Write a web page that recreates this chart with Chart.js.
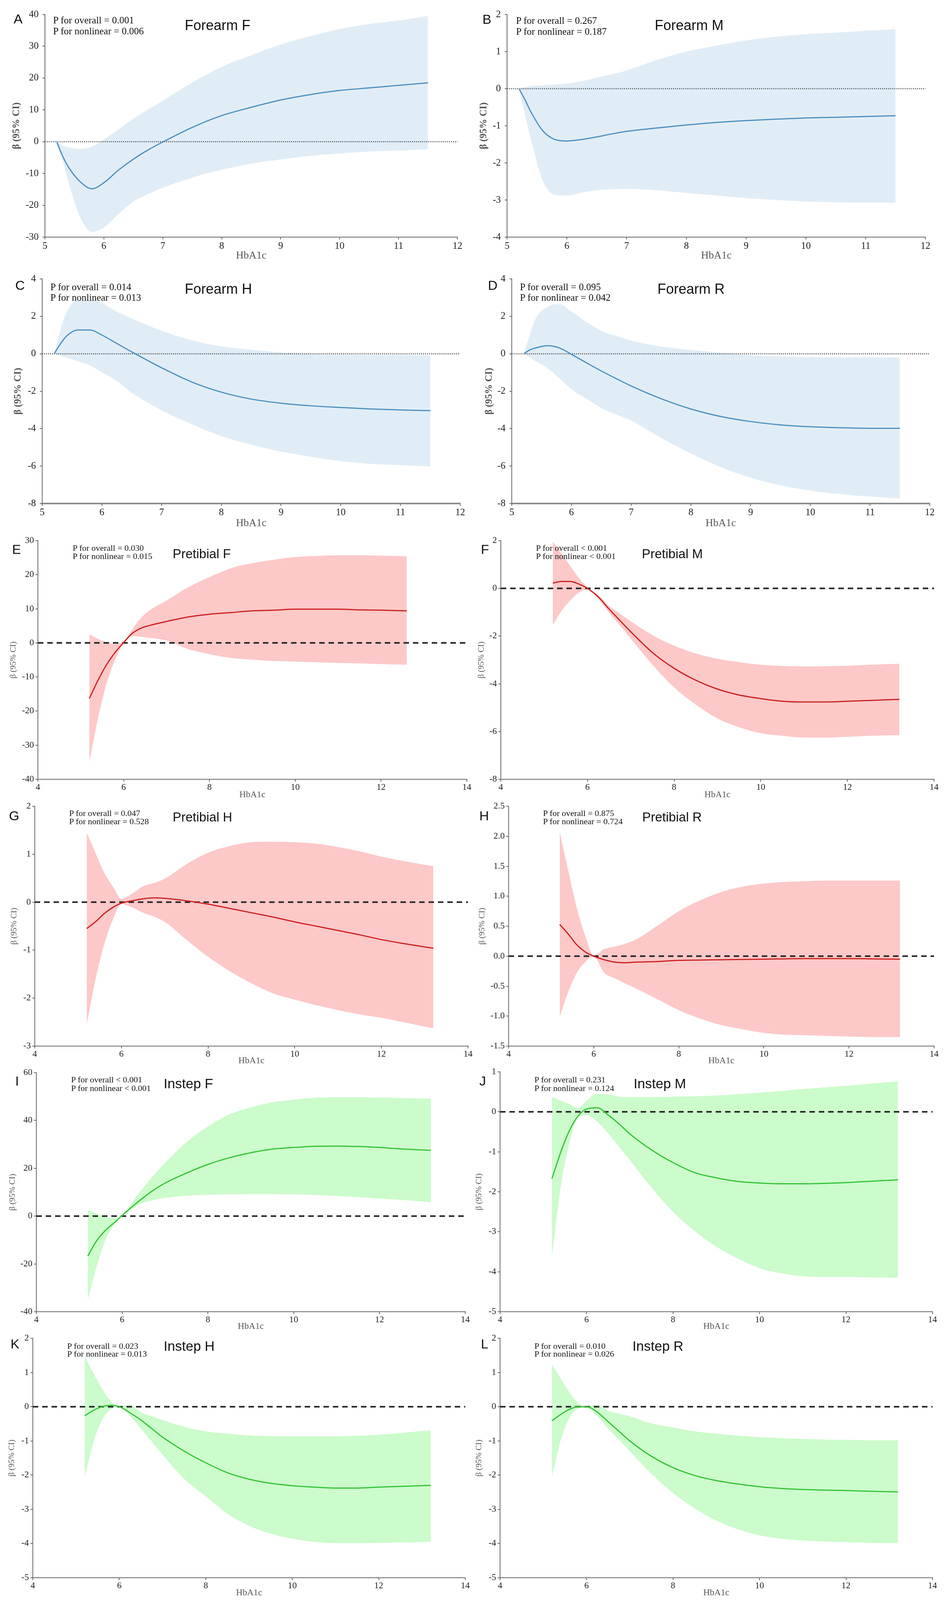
<!DOCTYPE html>
<html><head><meta charset="utf-8">
<script src="https://cdn.jsdelivr.net/npm/chart.js@4.4.0/dist/chart.umd.min.js"></script>
<style>
html,body{margin:0;padding:0;background:#fff;}
#page{position:relative;width:2419px;height:4488px;overflow:hidden;background:#fff;}
canvas{position:absolute;}
.lbl{position:absolute;white-space:nowrap;color:#111;}
.letter,.ttl{font-family:"Liberation Sans",Arial,sans-serif;}
.ptxt{font-family:"Liberation Serif","Times New Roman",serif;}
</style></head><body><div id="page"></div>
<script>
// ---------- DATA ----------
const hbaForearm    = [5.2,5.3,5.4,5.6,5.8,6.0,6.25,6.5,6.75,7,7.5,8,8.5,9,9.5,10,10.5,11,11.5];
const hbaPretibialF = [5.2,5.4,5.6,5.8,6.0,6.2,6.4,6.6,7,7.5,8,8.5,9,9.5,10,10.5,11,11.5,12,12.6];
const hbaLeg        = [5.2,5.4,5.6,5.8,6.0,6.25,6.5,6.75,7,7.5,8,8.5,9,9.5,10,10.5,11,11.5,12,12.5,13.2];

// A Forearm F
const betaA  = [0,-4.5,-8,-12.6,-14.8,-12.9,-8.9,-5.5,-2.6,-0.1,4.5,8.2,10.8,13.1,14.8,16.1,16.9,17.7,18.5];
const upperA = [0,-1.2,-1.8,-2.3,-1.5,0.7,3.9,7.2,10.1,12.9,18.6,23.5,27.2,30.5,33.2,35.4,37.0,38.1,39.5];
const lowerA = [-0.8,-6,-12.9,-23.8,-28.4,-27,-22.7,-18.9,-16.5,-14.5,-11.3,-8.8,-6.9,-5.6,-4.5,-3.7,-3.1,-2.8,-2.4];
// B Forearm M
const betaB  = [0,-0.3,-0.63,-1.14,-1.37,-1.41,-1.37,-1.30,-1.22,-1.15,-1.06,-0.98,-0.91,-0.86,-0.82,-0.79,-0.77,-0.75,-0.73];
const upperB = [0,0.04,0.07,0.09,0.11,0.14,0.2,0.3,0.39,0.49,0.77,1.0,1.16,1.3,1.4,1.47,1.51,1.56,1.6];
const lowerB = [0,-0.7,-1.37,-2.49,-2.86,-2.88,-2.8,-2.74,-2.71,-2.7,-2.74,-2.81,-2.88,-2.95,-3.0,-3.04,-3.06,-3.07,-3.07];
// C Forearm H
const betaC  = [0,0.5,0.92,1.27,1.27,1.0,0.55,0.1,-0.33,-0.75,-1.5,-2.05,-2.42,-2.64,-2.78,-2.87,-2.95,-3.0,-3.04];
const upperC = [0,1.2,2.15,2.85,2.85,2.7,2.25,1.88,1.55,1.23,0.72,0.4,0.21,0.07,-0.02,-0.04,-0.05,-0.06,-0.07];
const lowerC = [0,-0.1,-0.2,-0.4,-0.62,-0.99,-1.45,-2.09,-2.58,-3.02,-3.76,-4.4,-4.86,-5.23,-5.5,-5.74,-5.88,-5.95,-6.02];
// D Forearm R
const betaD  = [0,0.2,0.31,0.43,0.31,-0.03,-0.48,-0.92,-1.33,-1.72,-2.4,-2.95,-3.35,-3.62,-3.8,-3.9,-3.95,-3.98,-3.98];
const upperD = [0,1.0,1.88,2.52,2.65,2.25,1.7,1.23,0.95,0.71,0.39,0.2,0.06,-0.07,-0.15,-0.18,-0.19,-0.19,-0.19];
const lowerD = [0,-0.2,-0.4,-0.77,-1.32,-1.9,-2.4,-2.9,-3.25,-3.57,-4.5,-5.33,-6.06,-6.62,-7.03,-7.31,-7.5,-7.63,-7.73];
// E Pretibial F
const betaE  = [-16.3,-11.0,-6.4,-2.8,0.1,2.8,4.3,5.1,6.3,7.6,8.4,8.9,9.4,9.6,9.9,9.9,9.9,9.7,9.6,9.4];
const upperE = [2.5,1.2,0.2,-0.3,0.5,4,7.3,9.5,12.4,16.3,19.3,21.9,23.4,24.4,25.2,25.5,25.7,25.7,25.6,25.4];
const lowerE = [-34.9,-22.2,-12,-4.9,-0.2,2.0,1.8,1.5,0.7,-1.8,-3.3,-4.4,-4.9,-5.3,-5.5,-5.7,-5.9,-6.0,-6.2,-6.4];
// F Pretibial M
const betaF  = [0.22,0.29,0.29,0.18,0.0,-0.36,-0.87,-1.35,-1.82,-2.69,-3.35,-3.85,-4.22,-4.47,-4.62,-4.73,-4.76,-4.76,-4.73,-4.7,-4.65];
const upperF = [1.96,1.45,0.95,0.44,0.04,-0.28,-0.74,-1.06,-1.38,-1.96,-2.4,-2.73,-2.95,-3.09,-3.2,-3.25,-3.27,-3.26,-3.24,-3.2,-3.16];
const lowerF = [-1.53,-0.95,-0.51,-0.18,-0.04,-0.44,-1.02,-1.55,-2.11,-3.2,-4.15,-4.87,-5.45,-5.82,-6.07,-6.18,-6.25,-6.25,-6.22,-6.18,-6.15];
// G Pretibial H
const betaG  = [-0.55,-0.41,-0.24,-0.11,-0.02,0.03,0.07,0.09,0.08,0.03,-0.04,-0.13,-0.22,-0.31,-0.41,-0.5,-0.59,-0.68,-0.78,-0.86,-0.96];
const upperG = [1.45,1.03,0.62,0.33,0.07,0.18,0.33,0.4,0.49,0.79,1.03,1.17,1.25,1.26,1.25,1.22,1.15,1.06,0.95,0.86,0.75];
const lowerG = [-2.54,-1.62,-0.89,-0.37,-0.04,-0.11,-0.22,-0.3,-0.41,-0.78,-1.14,-1.44,-1.69,-1.9,-2.03,-2.15,-2.25,-2.34,-2.41,-2.5,-2.63];
// H Pretibial R
const betaH  = [0.53,0.37,0.19,0.07,0.0,-0.06,-0.1,-0.11,-0.1,-0.09,-0.07,-0.065,-0.06,-0.055,-0.05,-0.045,-0.04,-0.04,-0.04,-0.045,-0.05];
const upperH = [2.07,1.43,0.81,0.34,0.01,0.12,0.16,0.21,0.28,0.51,0.75,0.93,1.07,1.16,1.21,1.24,1.25,1.26,1.26,1.26,1.26];
const lowerH = [-1.01,-0.6,-0.28,-0.1,-0.01,-0.28,-0.37,-0.46,-0.54,-0.72,-0.9,-1.04,-1.15,-1.22,-1.28,-1.31,-1.32,-1.33,-1.34,-1.35,-1.35];
// I Instep F
const betaI  = [-16.7,-10.5,-6.2,-3.0,0.2,4.2,7.8,11.1,13.8,18.0,21.6,24.4,26.5,28.0,28.7,29.2,29.3,29.1,28.7,28.1,27.5];
const upperI = [2.5,1.1,-0.4,-0.7,0.4,6.2,12,17.3,22.2,30.9,37.5,42.5,45.5,47.6,48.7,49.5,49.7,49.7,49.6,49.4,49.1];
const lowerI = [-34.9,-21.5,-10.5,-4,0.0,3.3,5.5,6.8,7.6,8.5,8.9,9.1,9.2,9.2,9.1,8.8,8.4,7.9,7.3,6.8,5.8];
// J Instep M
const betaJ  = [-1.67,-1.02,-0.48,-0.11,0.07,0.1,-0.08,-0.3,-0.55,-0.95,-1.27,-1.52,-1.65,-1.74,-1.78,-1.8,-1.8,-1.79,-1.77,-1.74,-1.70];
const upperJ = [0.37,0.28,0.2,0.09,0.28,0.45,0.43,0.38,0.37,0.37,0.38,0.39,0.41,0.44,0.48,0.52,0.57,0.61,0.65,0.7,0.76];
const lowerJ = [-3.63,-1.89,-0.8,-0.15,-0.09,-0.25,-0.54,-0.87,-1.2,-1.89,-2.5,-2.98,-3.37,-3.67,-3.91,-4.04,-4.11,-4.13,-4.13,-4.14,-4.15];
// K Instep H
const betaK  = [-0.26,-0.11,0.0,0.04,0.0,-0.18,-0.39,-0.64,-0.89,-1.3,-1.64,-1.93,-2.12,-2.24,-2.31,-2.35,-2.38,-2.38,-2.35,-2.33,-2.3];
const upperK = [1.49,0.98,0.53,0.17,0.02,0.05,-0.16,-0.28,-0.39,-0.59,-0.72,-0.79,-0.84,-0.86,-0.87,-0.87,-0.87,-0.85,-0.82,-0.77,-0.69];
const lowerK = [-2.06,-1.05,-0.39,-0.08,-0.02,-0.28,-0.64,-1.02,-1.4,-2.11,-2.62,-3.13,-3.48,-3.71,-3.86,-3.95,-3.99,-3.99,-3.98,-3.97,-3.95];
// L Instep R
const betaL  = [-0.41,-0.23,-0.08,0.0,0.0,-0.16,-0.44,-0.72,-1.0,-1.45,-1.78,-2.01,-2.16,-2.26,-2.34,-2.39,-2.42,-2.44,-2.45,-2.47,-2.49];
const upperL = [1.24,0.83,0.43,0.12,0.02,0.06,-0.12,-0.2,-0.28,-0.49,-0.61,-0.72,-0.79,-0.85,-0.89,-0.92,-0.94,-0.96,-0.97,-0.98,-0.98];
const lowerL = [-2.06,-0.99,-0.34,-0.06,-0.03,-0.28,-0.64,-0.97,-1.3,-1.96,-2.52,-2.97,-3.33,-3.58,-3.76,-3.86,-3.91,-3.94,-3.96,-3.98,-3.99];

// Axis tick ranges [min, max, step]
const xTicksForearm = [5, 12, 1];
const xTicksLeg     = [4, 14, 2];
const yTicksA = [-30, 40, 10];
const yTicksB = [-4, 2, 1];
const yTicksC = [-8, 4, 2];
const yTicksD = [-8, 4, 2];
const yTicksE = [-40, 30, 10];
const yTicksF = [-8, 2, 2];
const yTicksG = [-3, 2, 1];
const yTicksH = [-1.5, 2.5, 0.5];
const yTicksI = [-40, 60, 20];
const yTicksJ = [-5, 1, 1];
const yTicksK = [-5, 2, 1];
const yTicksL = [-5, 2, 1];

// Texts
const panelLetters = ['A','B','C','D','E','F','G','H','I','J','K','L'];
const panelTitles = ['Forearm F','Forearm M','Forearm H','Forearm R','Pretibial F','Pretibial M','Pretibial H','Pretibial R','Instep F','Instep M','Instep H','Instep R'];
const pOverall = ['P for overall = 0.001','P for overall = 0.267','P for overall = 0.014','P for overall = 0.095','P for overall = 0.030','P for overall < 0.001','P for overall = 0.047','P for overall = 0.875','P for overall < 0.001','P for overall = 0.231','P for overall = 0.023','P for overall = 0.010'];
const pNonlinear = ['P for nonlinear = 0.006','P for nonlinear = 0.187','P for nonlinear = 0.013','P for nonlinear = 0.042','P for nonlinear = 0.015','P for nonlinear < 0.001','P for nonlinear = 0.528','P for nonlinear = 0.724','P for nonlinear < 0.001','P for nonlinear = 0.124','P for nonlinear = 0.013','P for nonlinear = 0.026'];
const xAxisTitle = 'HbA1c';
const yAxisTitle = 'β (95% CI)';

// ---------- PANEL DEFINITIONS ----------
const panelData = [
  {x:hbaForearm, b:betaA, hi:upperA, lo:lowerA, xt:xTicksForearm, yt:yTicksA, g:'blue'},
  {x:hbaForearm, b:betaB, hi:upperB, lo:lowerB, xt:xTicksForearm, yt:yTicksB, g:'blue'},
  {x:hbaForearm, b:betaC, hi:upperC, lo:lowerC, xt:xTicksForearm, yt:yTicksC, g:'blue'},
  {x:hbaForearm, b:betaD, hi:upperD, lo:lowerD, xt:xTicksForearm, yt:yTicksD, g:'blue'},
  {x:hbaPretibialF, b:betaE, hi:upperE, lo:lowerE, xt:xTicksLeg, yt:yTicksE, g:'red'},
  {x:hbaLeg, b:betaF, hi:upperF, lo:lowerF, xt:xTicksLeg, yt:yTicksF, g:'red'},
  {x:hbaLeg, b:betaG, hi:upperG, lo:lowerG, xt:xTicksLeg, yt:yTicksG, g:'red'},
  {x:hbaLeg, b:betaH, hi:upperH, lo:lowerH, xt:xTicksLeg, yt:yTicksH, g:'red', dec:1},
  {x:hbaLeg, b:betaI, hi:upperI, lo:lowerI, xt:xTicksLeg, yt:yTicksI, g:'green'},
  {x:hbaLeg, b:betaJ, hi:upperJ, lo:lowerJ, xt:xTicksLeg, yt:yTicksJ, g:'green'},
  {x:hbaLeg, b:betaK, hi:upperK, lo:lowerK, xt:xTicksLeg, yt:yTicksK, g:'green'},
  {x:hbaLeg, b:betaL, hi:upperL, lo:lowerL, xt:xTicksLeg, yt:yTicksL, g:'green'}
];

// Layout in reference pixels (2419 x 4488)
const layoutBoxes = [
  {ty:43,  L:115,  T:37,   R:1171, B:665,  hb:718,  let:[35,53],    p:[136,57,88],     t:[473,71]},
  {ty:1239,L:1298, T:37,   R:2369, B:665,  hb:718,  let:[1235,54],  p:[1321,58,89],    t:[1676,71]},
  {ty:47,  L:108,  T:779,  R:1178, B:1412, hb:1468, let:[39,800],   p:[129,805,835],   t:[473,810]},
  {ty:1253,L:1310, T:779,  R:2380, B:1412, hb:1468, let:[1249,800], p:[1331,805,835],  t:[1683,810]},
  {ty:35,  L:97,   T:1517, R:1195, B:2186, hb:2230, let:[31,1541],  p:[186,1538,1560], t:[442,1553]},
  {ty:1233,L:1282, T:1517, R:2391, B:2186, hb:2230, let:[1231,1541],p:[1372,1538,1560],t:[1643,1553]},
  {ty:37,  L:89,   T:2262, R:1198, B:2934, hb:2976, let:[23,2288],  p:[177,2282,2304], t:[442,2292]},
  {ty:1235,L:1302, T:2262, R:2391, B:2934, hb:2976, let:[1227,2288],p:[1390,2282,2304],t:[1644,2292]},
  {ty:33,  L:93,   T:3009, R:1191, B:3679, hb:3721, let:[39,3032],  p:[182,3029,3053], t:[419,3039]},
  {ty:1227,L:1280, T:3007, R:2387, B:3679, hb:3721, let:[1227,3032],p:[1368,3029,3053],t:[1622,3039]},
  {ty:31,  L:84,   T:3754, R:1191, B:4425, hb:4469, let:[27,3770],  p:[172,3776,3798], t:[419,3776]},
  {ty:1227,L:1280, T:3754, R:2387, B:4425, hb:4469, let:[1231,3770],p:[1368,3776,3798],t:[1619,3776]}
];

const styles = {
  blue:  {band:'#e1edf6', line:'#4a8fbf', zero:'#444444', zeroW:3, dash:[2,3], tick:26, xPad:2, yPad:10, yTitle:26, yBold:'bold', xTitle:28, ptxt:26, title:38, axis:'#6a6a6a', axisW:2},
  red:   {band:'#fdc8c8', line:'#cc1f1f', zero:'#222222', zeroW:4, dash:[14,10], tick:24, xPad:1, yPad:4, yTitle:22, yBold:'normal', xTitle:24, ptxt:23, title:35, axis:'#6a6a6a', axisW:2},
  green: {band:'#ccfbcc', line:'#33c433', zero:'#222222', zeroW:4, dash:[14,10], tick:24, xPad:1, yPad:4, yTitle:22, yBold:'normal', xTitle:24, ptxt:23, title:37, axis:'#6a6a6a', axisW:2}
};

// The visible viewport may be shorter than the 4488 px figure; fit the figure vertically.
const FULL_H = 4488;
const KY = Math.min(1, (window.innerHeight || FULL_H) / FULL_H);
const KF = (1 + KY) / 2;   // font scale
const SERIF = '"Liberation Serif","Times New Roman",serif';
const page = document.getElementById('page');
page.style.height = Math.round(FULL_H * KY) + 'px';

function addText(txt, cls, left, cy, size){
  const d = document.createElement('div');
  d.className = 'lbl ' + cls;
  d.textContent = txt;
  d.style.fontSize = size + 'px';
  d.style.lineHeight = (size*1.2) + 'px';
  d.style.left = left + 'px';
  d.style.top = (cy - size*0.6) + 'px';
  page.appendChild(d);
}
const pts = (xs, ys) => ys.map((v,i) => ({x: xs[i], y: v}));

panelData.forEach((p, i) => {
  const box = layoutBoxes[i];
  const s = styles[p.g];
  const T = Math.round(box.T * KY), B = Math.round(box.B * KY), HB = box.hb * KY;
  const tickF = Math.round(s.tick * KF), yTF = Math.round(s.yTitle * KF), xTF = Math.round(s.xTitle * KF);
  const cl = Math.round(box.ty - yTF*0.6);
  const ct = T - 22;
  const cr = Math.min(box.R + 40, 2419);
  const cb = Math.round(HB + xTF*0.6);
  const w = cr - cl, h = cb - ct;
  const cv = document.createElement('canvas');
  cv.width = w; cv.height = h;
  cv.style.left = cl + 'px'; cv.style.top = ct + 'px';
  cv.style.width = w + 'px'; cv.style.height = h + 'px';
  page.appendChild(cv);
  const yW = box.L - cl, xH = cb - B;
  const gridOpt = {drawOnChartArea:false, drawTicks:true, tickLength:6, color:s.axis, lineWidth:2};
  const xBorder = {display:true, color:(i===2||i===3) ? '#8a8a8a' : s.axis, width:(i===2||i===3) ? 4 : s.axisW};
  const yBorder = {display:true, color:s.axis, width:s.axisW};
  new Chart(cv, {
    type:'line',
    data:{datasets:[
      {data:pts(p.x,p.b), borderColor:s.line, borderWidth:3, pointRadius:0, fill:false, cubicInterpolationMode:'monotone'},
      {data:[{x:p.xt[0],y:0},{x:p.xt[1],y:0}], borderColor:s.zero, borderWidth:s.zeroW, borderDash:s.dash, pointRadius:0, fill:false},
      {data:pts(p.x,p.hi), borderColor:'rgba(0,0,0,0)', borderWidth:1, backgroundColor:s.band, pointRadius:0, fill:'+1', cubicInterpolationMode:'monotone'},
      {data:pts(p.x,p.lo), borderColor:'rgba(0,0,0,0)', borderWidth:1, backgroundColor:s.band, pointRadius:0, fill:false, cubicInterpolationMode:'monotone'}
    ]},
    options:{
      responsive:false, animation:false, devicePixelRatio:1,
      layout:{padding:{left:0, top:T-ct, right:cr-box.R, bottom:0}},
      plugins:{legend:{display:false}, tooltip:{enabled:false}},
      scales:{
        x:{type:'linear', min:p.xt[0], max:p.xt[1],
          ticks:{stepSize:p.xt[2], autoSkip:false, maxRotation:0, padding:s.xPad, color:'#222', font:{family:SERIF, size:tickF}},
          grid:gridOpt, border:xBorder,
          title:{display:true, text:xAxisTitle, color:'#555', padding:0, font:{family:SERIF, size:xTF}},
          afterFit:(sc)=>{sc.height = xH;}},
        y:{type:'linear', min:p.yt[0], max:p.yt[1],
          ticks:{stepSize:p.yt[2], autoSkip:false, padding:s.yPad, color:'#222', font:{family:SERIF, size:tickF},
            callback:(v)=> p.dec ? Number(v).toFixed(p.dec) : String(Math.round(v*1000)/1000)},
          grid:gridOpt, border:yBorder,
          title:{display:true, text:yAxisTitle, color:'#555', padding:0, font:{family:SERIF, size:yTF, weight:s.yBold}},
          afterFit:(sc)=>{sc.width = yW;}}
      }
    }
  });
  addText(panelLetters[i], 'letter', box.let[0], box.let[1]*KY, Math.round(36*KF));
  addText(pOverall[i], 'ptxt', box.p[0], box.p[1]*KY, Math.round(s.ptxt*KF));
  addText(pNonlinear[i], 'ptxt', box.p[0], box.p[2]*KY, Math.round(s.ptxt*KF));
  addText(panelTitles[i], 'ttl', box.t[0], box.t[1]*KY, Math.round(s.title*KF));
});
</script></body></html>
